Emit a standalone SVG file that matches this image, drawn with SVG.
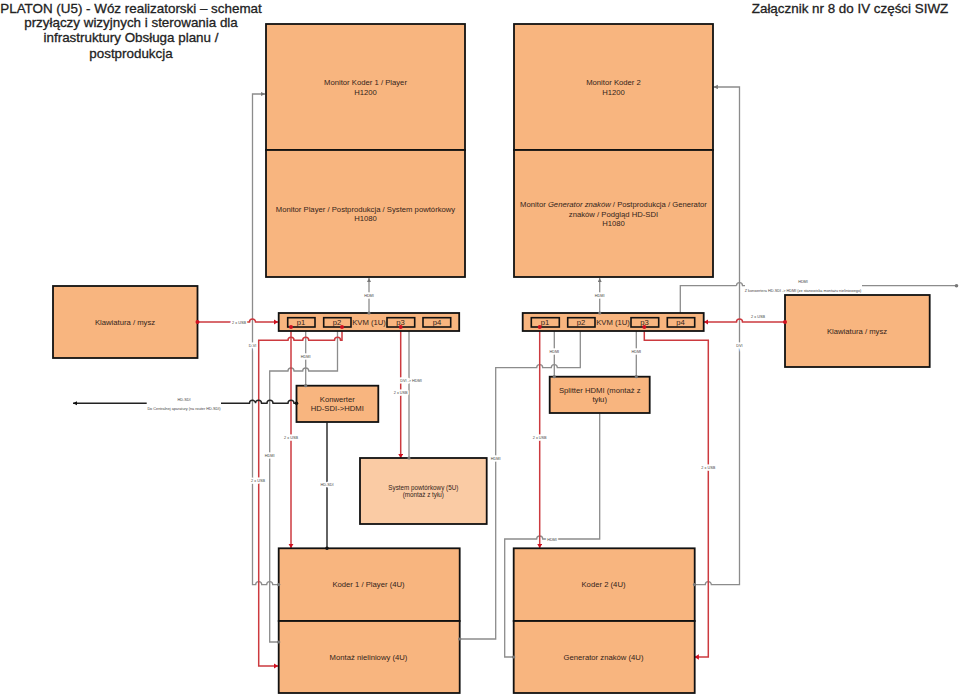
<svg xmlns="http://www.w3.org/2000/svg" width="960" height="696" viewBox="0 0 960 696">
<style>
text{font-family:"Liberation Sans",Arial,sans-serif;fill:#33241a;text-anchor:middle}
.n{font-size:7.7px}.m{font-size:6.3px}.k{font-size:7.7px}.s{font-size:3.8px;fill:#444}
.h{stroke:#fff;stroke-width:3px}
.t{font-size:13.4px;fill:#222;stroke:#222;stroke-width:.3px}
.b{fill:#F8B57F;stroke:#111;stroke-width:1.8}
.l{fill:#FACBA4;stroke:#111;stroke-width:1.8}
.p{fill:#F8B57F;stroke:#111;stroke-width:1.6}
.g,.r,.d{fill:none}
.g{stroke:#8c8c8c;stroke-width:1.3}
.r{stroke:#cc3a3f;stroke-width:1.5}
.d{stroke:#222;stroke-width:1.4}
</style>
<defs>
<marker id="ag" markerWidth="5" markerHeight="5" refX="4.4" refY="2.2" orient="auto" markerUnits="userSpaceOnUse"><path d="M0 0L4.500 2.200L0 4.400z" fill="#777"/></marker>
<marker id="ar" markerWidth="5" markerHeight="6" refX="4.4" refY="2.7" orient="auto" markerUnits="userSpaceOnUse"><path d="M0 0L4.500 2.700L0 5.400z" fill="#d01020"/></marker>
<marker id="ad" markerWidth="5" markerHeight="5" refX="4.4" refY="2.2" orient="auto" markerUnits="userSpaceOnUse"><path d="M0 0L4.500 2.200L0 4.400z" fill="#111"/></marker>
</defs>
<g id="title-left"><text class="t" x="131" y="12.500">PLATON (U5) - Wóz realizatorski – schemat</text><text class="t" x="131" y="27">przyłączy wizyjnych i sterowania dla</text><text class="t" x="131" y="42">infrastruktury Obsługa planu /</text><text class="t" x="131" y="58">postprodukcja</text></g>
<g id="title-right"><text class="t" x="850" y="12.500">Załącznik nr 8 do IV części SIWZ</text></g>
<g id="connectors">
<path class="g" marker-end="url(#ag)" d="M278 584.600H272.700a3 3 0 0 0-6 0H261.700a3 3 0 0 0-6 0H252.500V94H265"/>
<path class="g" marker-end="url(#ag)" d="M695 584.600H705.300a3 3 0 0 1 6 0H739.500V87H713.500"/>
<path class="g" marker-end="url(#ag)" d="M369 313V278"/>
<path class="g" marker-end="url(#ag)" d="M599.700 313V278"/>
<path class="g" d="M278 642H269.700V371H288a3 3 0 0 1 6 0H302.700a3 3 0 0 1 6 0H337.500V328"/>
<path class="g" d="M305.700 328V385"/>
<path class="g" d="M409 328V458"/>
<path class="g" d="M460 639H495.700V367.700H536.700a3 3 0 0 1 6 0H551.300a3 3 0 0 1 6 0H580.300V328"/>
<path class="g" d="M554.300 328V376"/>
<path class="g" d="M636.300 328V376"/>
<path class="g" marker-start="url(#ag)" d="M599.700 414V539H542.700a3 3 0 0 0-6 0H504.700V657H513"/>
<path class="g" marker-end="url(#ag)" d="M736.500 285.700H680.300V317.500"/>
<path class="g" d="M736.500 285.700a3 3 0 0 1 6 0H745"/>
<path class="g" d="M862 285.700H956"/>
<path class="r" marker-end="url(#ar)" d="M197.500 322H249.500a3 3 0 0 1 6 0H278"/>
<path class="r" marker-end="url(#ar)" d="M342 327V340.300H340.500a3 3 0 0 0-6 0H308.700a3 3 0 0 0-6 0H294a3 3 0 0 0-6 0H258.700V666H278"/>
<path class="r" marker-end="url(#ar)" d="M291 327V548"/>
<path class="r" marker-end="url(#ar)" d="M400.700 327V458"/>
<path class="r" marker-end="url(#ar)" d="M539.700 327V548"/>
<path class="r" marker-end="url(#ar)" d="M644.300 327V340.300H708.300V657H694.500"/>
<path class="r" marker-end="url(#ar)" d="M785 322H742.500a3 3 0 0 0-6 0H704"/>
<path class="d" marker-end="url(#ad)" d="M146.700 403.300H73"/>
<path class="d" d="M221 403.300H249.500a3 3 0 0 1 6 0a3 3 0 0 1 6 0H267a3 3 0 0 1 6 0H288a3 3 0 0 1 6 0H296"/>
<path class="d" marker-start="url(#ad)" d="M327 422.500V548"/>
</g>
<g id="monitor-koder1"><rect class="b" x="266" y="24" width="199" height="126"/><text class="n" x="365.500" y="85">Monitor Koder 1 / Player</text><text class="n" x="365.500" y="94.500">H1200</text></g>
<g id="monitor-player"><rect class="b" x="266" y="150" width="199" height="127"/><text class="n" x="365.500" y="212">Monitor Player / Postprodukcja / System powtórkowy</text><text class="n" x="365.500" y="221">H1080</text></g>
<g id="monitor-koder2"><rect class="b" x="514" y="24" width="199" height="126"/><text class="n" x="613.500" y="85">Monitor Koder 2</text><text class="n" x="613.500" y="94.500">H1200</text></g>
<g id="monitor-generator"><rect class="b" x="514" y="150" width="199" height="127"/><text class="n" x="613.500" y="207">Monitor <tspan font-style="italic">Generator znaków</tspan> / Postprodukcja / Generator</text><text class="n" x="613.500" y="216.500">znaków / Podgląd HD-SDI</text><text class="n" x="613.500" y="226">H1080</text></g>
<g id="klawiatura-l"><rect class="b" x="53" y="286" width="144.500" height="72"/><text class="n" x="125" y="325">Klawiatura / mysz</text></g>
<g id="klawiatura-r"><rect class="b" x="785" y="295" width="144.700" height="72"/><text class="n" x="857" y="334">Klawiatura / mysz</text></g>
<g id="kvm1"><rect class="b" x="278.700" y="313" width="180.500" height="18"/><rect class="p" x="287.700" y="317.700" width="27.300" height="9.300"/><text class="k" x="301" y="325">p1</text><rect class="p" x="323.700" y="317.700" width="27.300" height="9.300"/><text class="k" x="337" y="325">p2</text><text class="k" x="369" y="325">KVM (1U)</text><rect class="p" x="387" y="317.700" width="27.700" height="9.300"/><text class="k" x="400.500" y="325">p3</text><rect class="p" x="423" y="317.700" width="27.700" height="9.300"/><text class="k" x="437" y="325">p4</text></g>
<g id="kvm2"><rect class="b" x="522.700" y="313" width="181" height="18"/><rect class="p" x="531.300" y="317.700" width="28" height="9.300"/><text class="k" x="545" y="325">p1</text><rect class="p" x="567.700" y="317.700" width="27.300" height="9.300"/><text class="k" x="581" y="325">p2</text><text class="k" x="613" y="325">KVM (1U)</text><rect class="p" x="631" y="317.700" width="27.700" height="9.300"/><text class="k" x="644.500" y="325">p3</text><rect class="p" x="667.300" y="317.700" width="27.400" height="9.300"/><text class="k" x="680.500" y="325">p4</text></g>
<g id="konwerter"><rect class="b" x="296.500" y="385.700" width="81.800" height="36.300"/><text class="n" x="337.300" y="401.500">Konwerter</text><text class="n" x="337.300" y="411">HD-SDI-&gt;HDMI</text></g>
<g id="splitter"><rect class="b" x="549.700" y="376.700" width="100" height="36.300"/><text class="n" x="599.700" y="392.500">Splitter HDMI (montaż z</text><text class="n" x="599.700" y="402">tyłu)</text></g>
<g id="system"><rect class="l" x="360" y="458" width="126.700" height="66"/><text class="m" x="423.300" y="489.500">System powtórkowy (5U)</text><text class="m" x="423.300" y="497">(montaż z tyłu)</text></g>
<g id="koder1"><rect class="b" x="278.700" y="548.300" width="181" height="72.700"/><text class="n" x="368.500" y="587">Koder 1 / Player (4U)</text></g>
<g id="montaz"><rect class="b" x="278.700" y="621" width="181" height="72"/><text class="n" x="368.500" y="659.500">Montaż nieliniowy (4U)</text></g>
<g id="koder2"><rect class="b" x="513.700" y="548.300" width="181" height="72.700"/><text class="n" x="603.500" y="587">Koder 2 (4U)</text></g>
<g id="generator"><rect class="b" x="513.700" y="621" width="181" height="72"/><text class="n" x="603.500" y="659.500">Generator znaków (4U)</text></g>
<g id="markers">
<g fill="#d01020"><circle cx="197.500" cy="322" r="2"/><circle cx="291" cy="327" r="2"/><circle cx="342" cy="327" r="2"/><circle cx="400.700" cy="327" r="2"/><circle cx="539.700" cy="327" r="2"/><circle cx="644.300" cy="327" r="2"/><circle cx="785" cy="322" r="2"/></g>
<g fill="#111"><circle cx="296.500" cy="403.300" r="1.800"/><circle cx="327" cy="548.300" r="1.800"/></g>
<g fill="#777"><circle cx="369" cy="313" r="1.600"/><circle cx="599.700" cy="313" r="1.600"/><circle cx="305.700" cy="385.700" r="1.600"/><circle cx="409" cy="458" r="1.600"/><circle cx="554.300" cy="376.700" r="1.600"/><circle cx="636.300" cy="376.700" r="1.600"/><circle cx="278.700" cy="584.600" r="1.600"/><circle cx="278.700" cy="642" r="1.600"/><circle cx="459.700" cy="639" r="1.600"/><circle cx="513.700" cy="657" r="1.600"/><circle cx="694.500" cy="584.600" r="1.600"/><circle cx="956.500" cy="285.700" r="1.800"/></g>
</g>
<g id="labels" paint-order="stroke">
<text class="s h" x="239" y="323.500">2 x USB</text>
<text class="s h" x="252.500" y="347">D-VI</text>
<text class="s h" x="369" y="296.500">HDMI</text>
<text class="s h" x="599.700" y="296.500">HDMI</text>
<text class="s h" x="305.700" y="357.500">HDMI</text>
<text class="s h" x="554.300" y="353">HDMI</text>
<text class="s h" x="636.300" y="353">HDMI</text>
<text class="s h" x="739.500" y="346.500">DVI</text>
<text class="s h" x="758" y="318">2 x USB</text>
<text class="s h" x="411" y="381.500">DVI -&gt; HDMI</text>
<text class="s h" x="400.700" y="393.500">2 x USB</text>
<text class="s h" x="291" y="438.500">2 x USB</text>
<text class="s h" x="539.700" y="438.500">2 x USB</text>
<text class="s h" x="708.300" y="468.500">2 x USB</text>
<text class="s h" x="269.700" y="456.500">HDMI</text>
<text class="s h" x="495.700" y="459.500">HDMI</text>
<text class="s h" x="258" y="481.500">2 x USB</text>
<text class="s h" x="327" y="485.500">HD-SDI</text>
<text class="s h" x="552" y="540.500">HDMI</text>
<text class="s" x="184" y="400.500">HD-SDI</text>
<text class="s" x="184" y="409.500">Do Centralnej aparatury (na router HD-SDI)</text>
<text class="s" x="803" y="282.500">HDMI</text>
<text class="s" x="803" y="291.500">Z konwertera  HD-SDI -&gt; HDMI (ze stanowiska montażu nieliniowego)</text>
</g>
</svg>
